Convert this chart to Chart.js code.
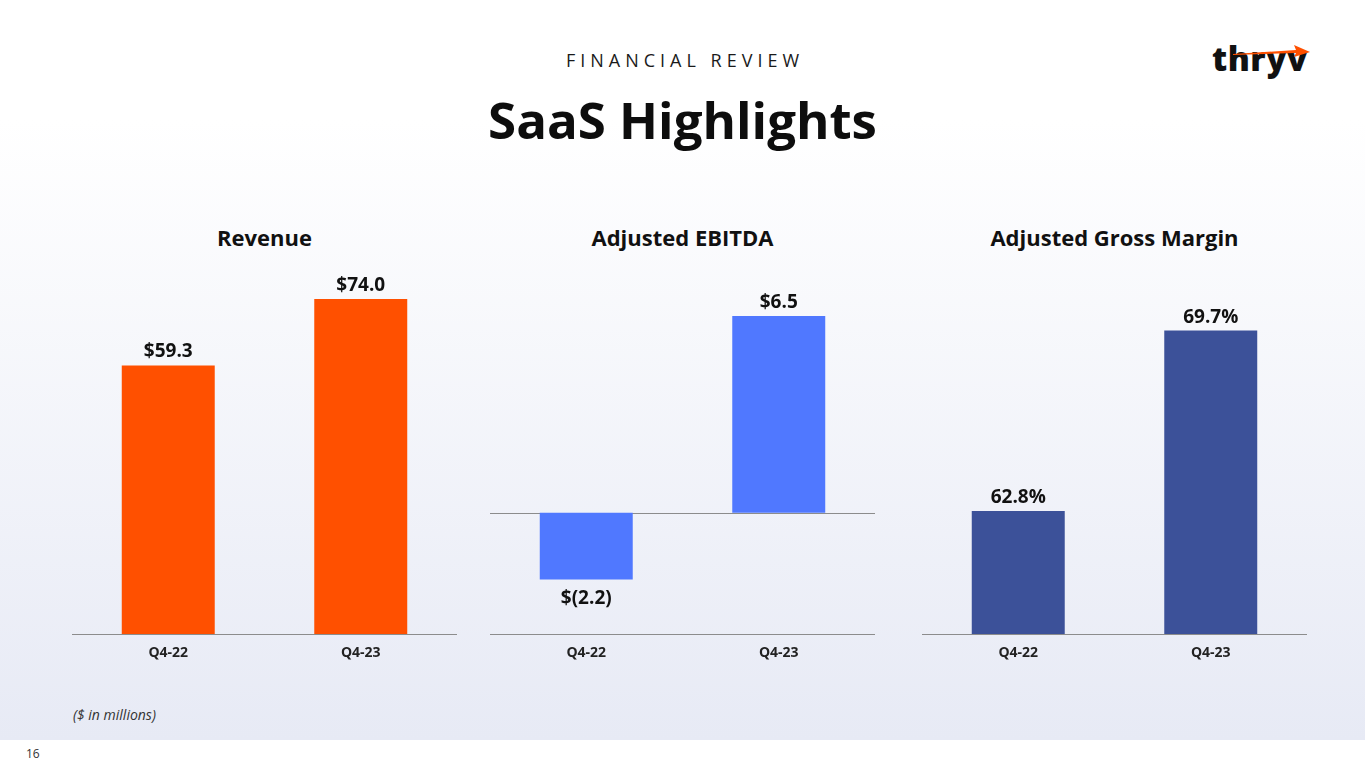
<!DOCTYPE html>
<html>
<head>
<meta charset="utf-8">
<script src="https://cdn.jsdelivr.net/npm/chart.js@4.4.1/dist/chart.umd.min.js"></script>
<style>
  html, body { margin: 0; padding: 0; }
  body {
    width: 1365px; height: 768px; position: relative; overflow: hidden;
    font-family: "Open Sans", sans-serif; color: #111;
    background: linear-gradient(to bottom, #ffffff 0px, #ffffff 120px, #e7eaf5 740px, #ffffff 740px, #ffffff 768px);
  }
  .abs { position: absolute; line-height: 1; white-space: nowrap; }
  .kicker { top: 51px; left: 0; width: 1365px; text-align: center; font-size: 18px; letter-spacing: 5px; padding-left: 5px; box-sizing: border-box; color: #1a1a1a; }
  .title { top: 94px; left: 0; width: 1365px; text-align: center; font-size: 51px; font-weight: 700; color: #0d0d0d; }
  .ctitle { top: 226px; font-size: 22px; font-weight: 700; text-align: center; width: 385px; color: #111; }
  .note { top: 708px; left: 73px; font-size: 14px; font-style: italic; color: #333; }
  .page { top: 748px; left: 26px; font-size: 12px; color: #333; }
  .logo { top: 42px; left: 1212px; font-size: 33px; font-weight: 800; letter-spacing: 0.5px; color: #111; }
  canvas { position: absolute; }
</style>
</head>
<body>
<div class="abs kicker">FINANCIAL REVIEW</div>
<div class="abs title">SaaS Highlights</div>
<div class="abs logo">thryv</div>
<svg class="abs" style="left:1230px;top:42px" width="84" height="16">
  <polygon points="3,12 66,8 64,3 80,10 64,15 66,11 3,13" fill="#ff5000"/>
</svg>

<div class="abs ctitle" style="left:72px">Revenue</div>
<div class="abs ctitle" style="left:490px">Adjusted EBITDA</div>
<div class="abs ctitle" style="left:922px">Adjusted Gross Margin</div>

<canvas id="c1" width="385" height="430" style="left:72px;top:250px"></canvas>
<canvas id="c2" width="385" height="430" style="left:490px;top:250px"></canvas>
<canvas id="c3" width="385" height="430" style="left:922px;top:250px"></canvas>

<div class="abs note">($ in millions)</div>
<div class="abs page">16</div>

<script>
const quarters = ['Q4-22', 'Q4-23'];
const revenue = [59.3, 74.0];
const ebitda = [-2.2, 6.5];
const grossMargin = [62.8, 69.7];

const formats = {
  dollars: v => v < 0 ? '$(' + Math.abs(v).toFixed(1) + ')' : '$' + v.toFixed(1),
  percent: v => v.toFixed(1) + '%'
};

// value labels above (or below) each bar
const valueLabels = {
  id: 'valueLabels',
  afterDatasetsDraw(chart) {
    const ctx = chart.ctx;
    const fmt = formats[chart.options.plugins.valueLabels.kind];
    const ds = chart.data.datasets[0];
    chart.getDatasetMeta(0).data.forEach((bar, i) => {
      const v = ds.data[i];
      ctx.save();
      ctx.font = 'bold 19px "Open Sans"';
      ctx.fillStyle = '#111';
      ctx.textAlign = 'center';
      ctx.textBaseline = 'alphabetic';
      ctx.fillText(fmt(v), bar.x, v < 0 ? bar.y + 25 : bar.y - 8);
      ctx.restore();
    });
  }
};

// zero line for the chart that goes below zero
const zeroLine = {
  id: 'zeroLine',
  beforeDatasetsDraw(chart) {
    if (!chart.options.plugins.zeroLine.show) return;
    const y = Math.round(chart.scales.y.getPixelForValue(0)) + 0.5;
    const a = chart.chartArea;
    const ctx = chart.ctx;
    ctx.save();
    ctx.strokeStyle = '#8c8c8c';
    ctx.lineWidth = 1;
    ctx.beginPath();
    ctx.moveTo(a.left, y);
    ctx.lineTo(a.right, y);
    ctx.stroke();
    ctx.restore();
  }
};

function drawChart(id, values, color, yMin, yMax, kind, showZero) {
  return new Chart(document.getElementById(id), {
    type: 'bar',
    data: {
      labels: quarters,
      datasets: [{
        data: values,
        backgroundColor: color,
        borderWidth: 0,
        categoryPercentage: 1,
        barPercentage: 0.483
      }]
    },
    options: {
      responsive: false,
      animation: false,
      layout: { padding: { top: 10 } },
      plugins: {
        legend: { display: false },
        tooltip: { enabled: false },
        valueLabels: { kind: kind },
        zeroLine: { show: showZero }
      },
      scales: {
        x: {
          grid: { display: true, drawOnChartArea: false, drawTicks: false },
          border: { display: true, color: '#8c8c8c', width: 1 },
          ticks: { color: '#222', padding: 11, font: { family: 'Open Sans', size: 14, weight: 'bold' } },
          afterFit: s => { s.height = 46; }
        },
        y: { display: false, min: yMin, max: yMax }
      }
    },
    plugins: [valueLabels, zeroLine]
  });
}

drawChart('c1', revenue, '#ff5000', 0, 82.6, 'dollars', false);
drawChart('c2', ebitda, '#5078ff', -4, 8.35, 'dollars', true);
drawChart('c3', grossMargin, '#3c5199', 58.1, 72.4, 'percent', false);
</script>
</body>
</html>
